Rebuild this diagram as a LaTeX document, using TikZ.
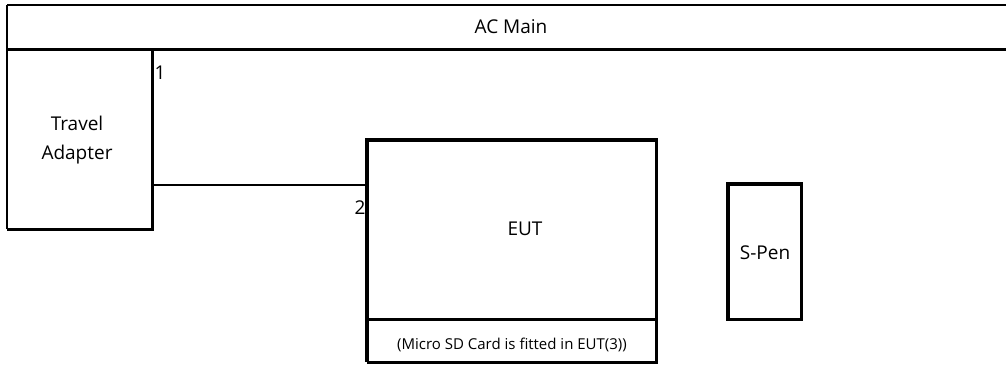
\documentclass[tikz,border=0pt]{standalone}
\usepackage{fontspec}
\setmainfont{Open Sans}
\begin{document}
\begin{tikzpicture}[x=1pt,y=-1pt,
  box/.style={draw=none,rectangle,inner sep=0pt,anchor=north west},
  lbl/.style={font=\fontsize{19}{29}\selectfont,inner sep=0pt,align=center},
  small/.style={font=\fontsize{15}{18}\selectfont,inner sep=0pt},
  thinl/.style={line width=1.6pt},
  medl/.style={line width=2.2pt},
  thickl/.style={line width=3.3pt}]
\useasboundingbox (0,0) rectangle (1006,364);
% boxes
\node[box,minimum width=1010pt,minimum height=44pt] (ac) at (7,5) {};
\node[box,minimum width=145pt,minimum height=180pt] (ta) at (7,49) {};
\node[box,minimum width=289pt,minimum height=179pt] (eut) at (367,140) {};
\node[box,minimum width=289pt,minimum height=43pt] (sd) at (367,319) {};
\node[box,minimum width=73pt,minimum height=135pt] (pen) at (728,184) {};
% borders
\draw[medl] (ac.north west) -- (ac.north east);
\draw[thinl] (ac.north west) -- (ac.south west);
\draw[thickl] (ac.south west) -- (ac.south east);
\draw[thinl] (ta.north west) -- (ta.south west);
\draw[thickl] (ta.north east) -- (ta.south east) -- (ta.south west);
\draw[thickl] (eut.north west) rectangle (eut.south east);
\draw[thickl] (sd.north west) -- (sd.south west);
\draw[medl] (sd.north east) -- (sd.south east) -- (sd.south west);
\draw[thickl] (pen.north west) rectangle (pen.south east);
% texts
\node[lbl] (actext) at (511,27) {AC Main};
\node[lbl] (tatext) at (77,140) {Travel\\Adapter};
\node[lbl] (euttext) at (525,229) {EUT};
\node[small] (sdtext) at (512,345) {(Micro SD Card is fitted in EUT(3))};
\node[lbl] (pentext) at (765,253) {S-Pen};
\node[lbl] (n1) at (160,73) {1};
\node[lbl] (n2) at (360,208) {2};
% connector
\coordinate (p1) at (152,185);
\draw[medl] (p1) -- (p1 -| eut.west);
\end{tikzpicture}
\end{document}
